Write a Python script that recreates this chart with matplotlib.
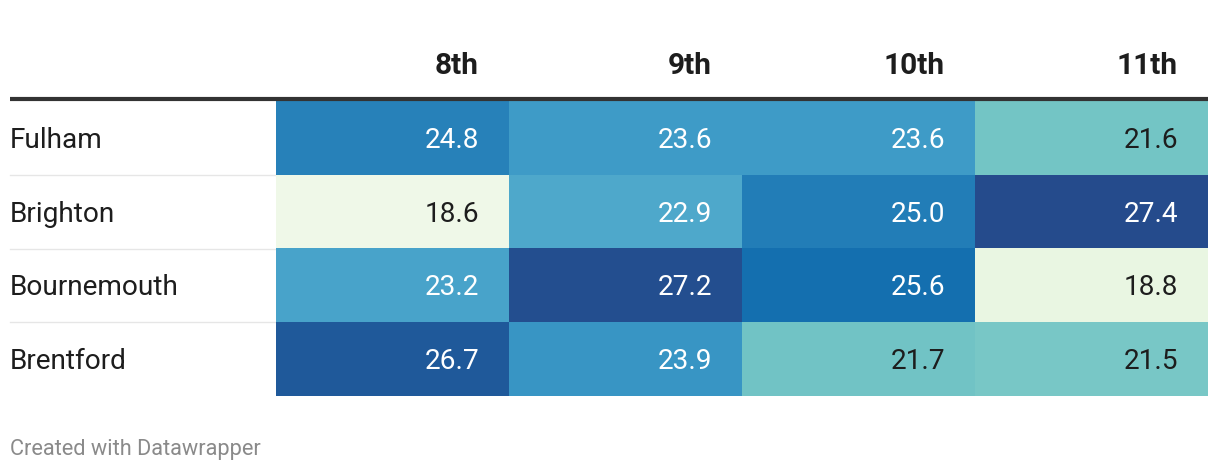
import numpy as np
from matplotlib import pyplot as plt
from matplotlib.colors import LinearSegmentedColormap

plt.rcParams['font.family'] = ['Roboto', 'DejaVu Sans']

teams = ['Fulham', 'Brighton', 'Bournemouth', 'Brentford']
columns = ['8th', '9th', '10th', '11th']
values = [
    [24.8, 23.6, 23.6, 21.6],
    [18.6, 22.9, 25.0, 27.4],
    [23.2, 27.2, 25.6, 18.8],
    [26.7, 23.9, 21.7, 21.5],
]

vals = np.array(values)
vmin, vmax = vals.min(), vals.max()

# colour scale picked to look like the datawrapper one
stops = [
    (0.0, '#eff8e8'), (0.023, '#e8f6e2'), (0.341, '#74c6c5'),
    (0.489, '#4fa9cc'), (0.568, '#3f9cc8'), (0.705, '#2882ba'),
    (0.795, '#1470b0'), (0.92, '#1f5a9b'), (1.0, '#254b8c'),
]
cmap = LinearSegmentedColormap.from_list('dw', stops)

fig = plt.figure(figsize=(12.2, 4.72), dpi=100)
ax = fig.add_axes([0, 0, 1, 1])
ax.set_xlim(0, 1220)
ax.set_ylim(472, 0)
ax.axis('off')

left, x0, x1 = 10, 276, 1208
top, bottom = 101, 396
ncol, nrow = len(columns), len(teams)
cw = (x1 - x0) / ncol
rh = (bottom - top) / nrow

ax.imshow(vals, cmap=cmap, vmin=vmin, vmax=vmax, aspect='auto',
          extent=[x0, x1, bottom, top], interpolation='nearest', zorder=1)

# header
for j, c in enumerate(columns):
    ax.text(x0 + (j + 1) * cw - 30, 66, c, ha='right', va='center',
            fontsize=21.5, fontweight='bold', color='#1d1d1d')
ax.plot([left, x1], [99, 99], color='#333333', lw=3, solid_capstyle='butt', zorder=3)

# rows
for i, t in enumerate(teams):
    yc = top + (i + 0.5) * rh + 2.5
    ax.text(left, yc, t, ha='left', va='center', fontsize=20.2, color='#1d1d1d')
    if i > 0:
        ax.plot([left, x0], [top + i * rh] * 2, color='#e6e6e6', lw=1, zorder=0)
    for j in range(ncol):
        v = vals[i, j]
        col = 'white' if v > 22.5 else '#1d1d1d'
        ax.text(x0 + (j + 1) * cw - 30, yc, f'{v:.1f}', ha='right', va='center',
                fontsize=20.2, color=col, zorder=4)

ax.text(left, 449, 'Created with Datawrapper', ha='left', va='center',
        fontsize=15.7, color='#8a8a8a')

plt.savefig('out.png', dpi=100)
